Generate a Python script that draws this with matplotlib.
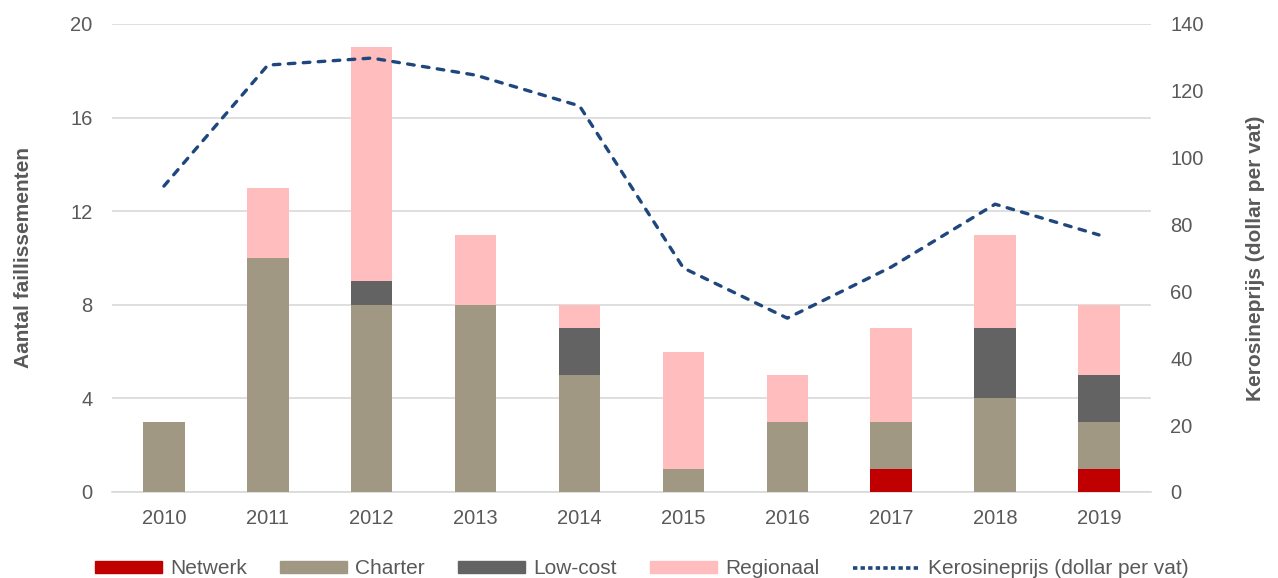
import numpy as np
import matplotlib.pyplot as plt
from matplotlib.lines import Line2D
from matplotlib.patches import Patch

plt.rcParams['font.family'] = ['Liberation Sans', 'DejaVu Sans']

# Data
years = ['2010', '2011', '2012', '2013', '2014', '2015', '2016', '2017', '2018', '2019']
netwerk = [0, 0, 0, 0, 0, 0, 0, 1, 0, 1]
charter = [3, 10, 8, 8, 5, 1, 3, 2, 4, 2]
lowcost = [0, 0, 1, 0, 2, 0, 0, 0, 3, 2]
regionaal = [0, 3, 10, 3, 1, 5, 2, 4, 4, 3]
kerosine = [91.5, 127.7, 129.8, 124.7, 115.5, 67, 52, 67.3, 86.1, 76.9]

c_netwerk = '#C00000'
c_charter = '#A09882'
c_lowcost = '#636363'
c_regio = '#FFBDBD'
c_line = '#1F477D'
c_text = '#595959'

fig = plt.figure(figsize=(12.78, 5.78), dpi=100)
ax = fig.add_axes([0.0876, 0.1488, 0.813, 0.8097])
ax2 = ax.twinx()

x = np.arange(len(years))
w = 0.4
b1 = np.array(netwerk)
b2 = b1 + np.array(charter)
b3 = b2 + np.array(lowcost)
ax.bar(x, netwerk, w, color=c_netwerk, zorder=3)
ax.bar(x, charter, w, bottom=b1, color=c_charter, zorder=3)
ax.bar(x, lowcost, w, bottom=b2, color=c_lowcost, zorder=3)
ax.bar(x, regionaal, w, bottom=b3, color=c_regio, zorder=3)

ax2.plot(x, kerosine, color=c_line, linewidth=2.4, linestyle=(0, (2.0, 2.5)),
         dash_capstyle='round', zorder=4)

ax.set_xlim(-0.5, len(years) - 0.5)
ax.set_ylim(0, 20)
ax.set_yticks([0, 4, 8, 12, 16, 20])
ax2.set_ylim(0, 140)
ax2.set_yticks([0, 20, 40, 60, 80, 100, 120, 140])
ax.set_xticks(x)
ax.set_xticklabels(years)

ax.grid(axis='y', color='#D9D9D9', linewidth=1.2, zorder=0)
ax.set_axisbelow(True)
for a in (ax, ax2):
    for s in a.spines.values():
        s.set_visible(False)
    a.tick_params(length=0, labelsize=14.5, labelcolor=c_text)
ax.spines['bottom'].set_visible(True)
ax.spines['bottom'].set_color('#D9D9D9')
ax.spines['bottom'].set_linewidth(1.2)
ax.tick_params(axis='x', pad=12)
ax.tick_params(axis='y', pad=14)
ax2.tick_params(axis='y', pad=14)

ax.set_ylabel('Aantal faillissementen', fontsize=15, fontweight='bold', color=c_text, labelpad=27)
ax2.set_ylabel('Kerosineprijs (dollar per vat)', fontsize=15, fontweight='bold', color=c_text, labelpad=30)

handles = [
    Patch(color=c_netwerk, label='Netwerk'),
    Patch(color=c_charter, label='Charter'),
    Patch(color=c_lowcost, label='Low-cost'),
    Patch(color=c_regio, label='Regionaal'),
    Line2D([0], [0], color=c_line, linewidth=2.6, linestyle=(0, (1.2, 0.9)),
           label='Kerosineprijs (dollar per vat)'),
]
fig.legend(handles=handles, loc='lower center', bbox_to_anchor=(0.502, -0.033), ncol=5,
           frameon=False, fontsize=15, labelcolor=c_text, handlelength=3.2,
           handleheight=0.5, columnspacing=1.6, handletextpad=0.4)

fig.savefig('out.png', dpi=100)
